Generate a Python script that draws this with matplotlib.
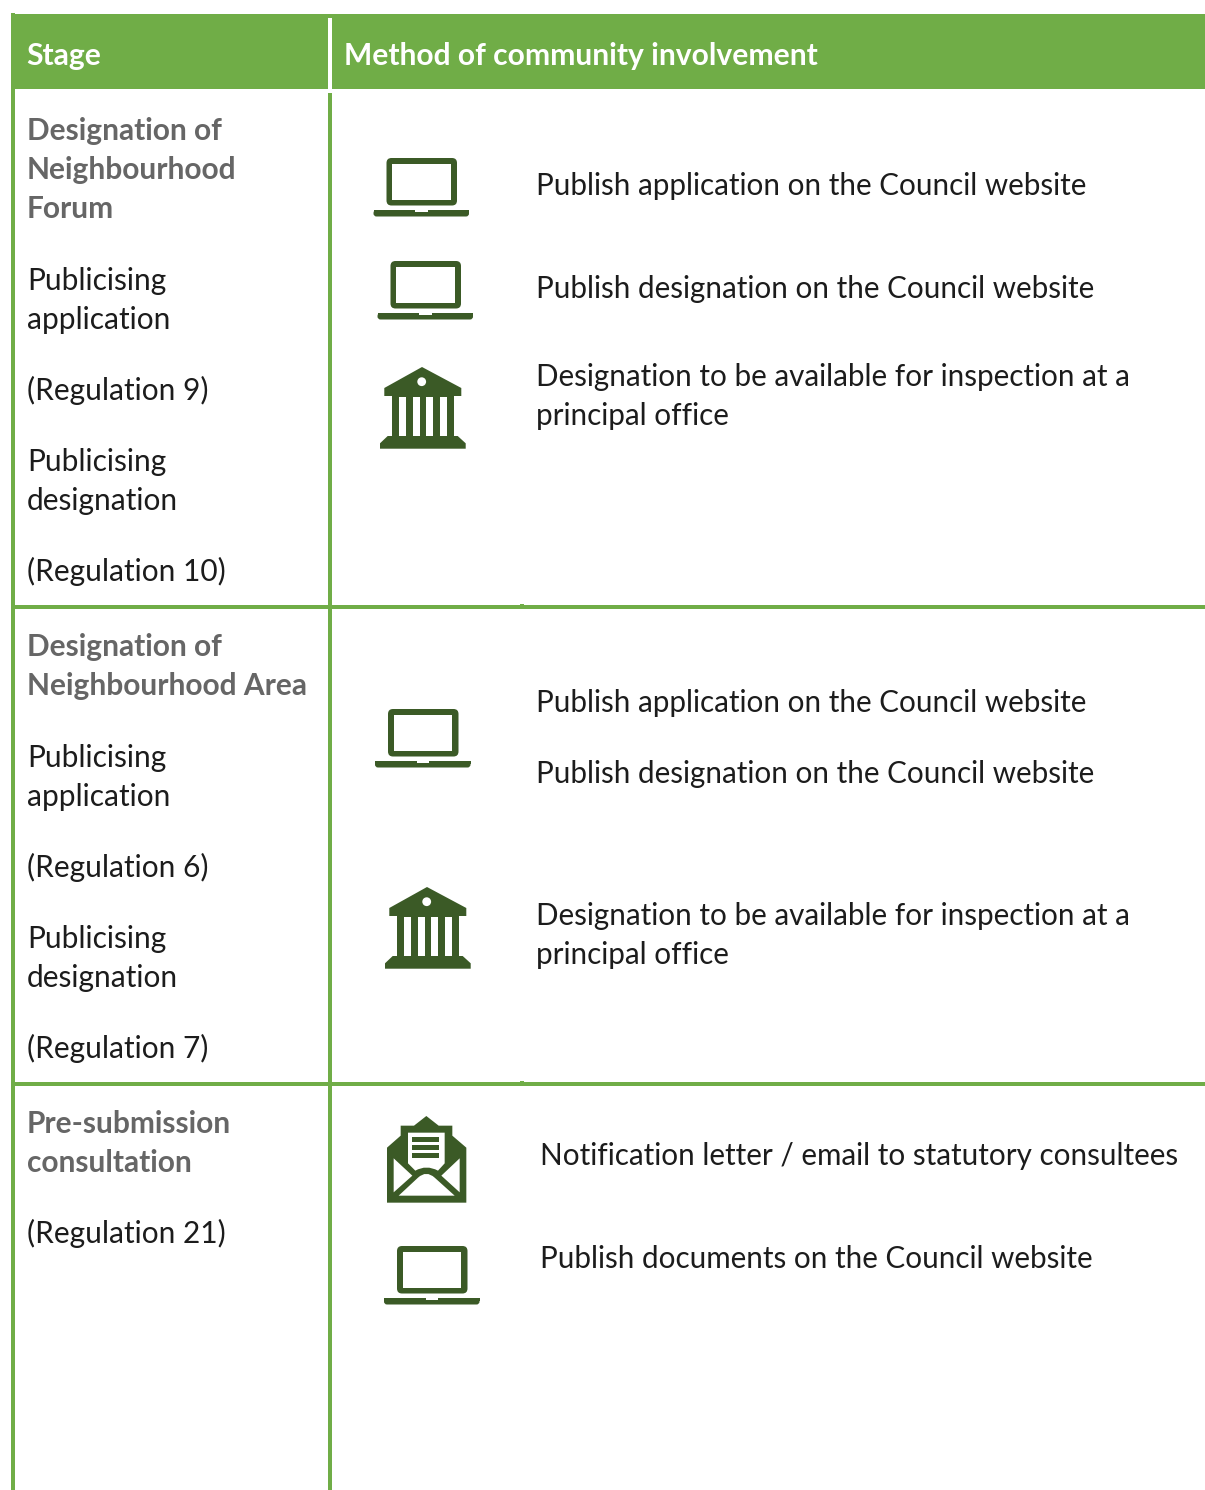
import matplotlib
matplotlib.use("Agg")
import matplotlib.pyplot as plt
from matplotlib.patches import Circle, FancyBboxPatch, Polygon, Rectangle, PathPatch
from matplotlib.path import Path

plt.rcParams['font.family'] = ['Lato', 'DejaVu Sans']

GREEN = '#70ad47'
DARK = '#3b5a26'
GREY = '#666666'
INK = '#1c1c1c'
W, H = 1205, 1490

header_labels = ["Stage", "Method of community involvement"]

stage_bold = ["Designation of", "Neighbourhood", "Forum",
              "Designation of", "Neighbourhood Area",
              "Pre-submission", "consultation"]
stage_bold_y = [140, 179, 218, 656, 695, 1133, 1172]

stage_plain = ["Publicising", "application", "(Regulation 9)",
               "Publicising", "designation", "(Regulation 10)",
               "Publicising", "application", "(Regulation 6)",
               "Publicising", "designation", "(Regulation 7)",
               "(Regulation 21)"]
stage_plain_y = [290, 329, 400, 471, 510, 581,
                 767, 806, 877, 948, 987, 1058, 1243]

method_text = ["Publish application on the Council website",
               "Publish designation on the Council website",
               "Designation to be available for inspection at a",
               "principal office",
               "Publish application on the Council website",
               "Publish designation on the Council website",
               "Designation to be available for inspection at a",
               "principal office",
               "Notification letter / email to statutory consultees",
               "Publish documents on the Council website"]
method_x = [536, 536, 536, 536, 536, 536, 536, 536, 540, 540]
method_y = [195, 298, 386, 425, 712, 783, 925, 964, 1165, 1268]

laptops = [(373.5, 158), (377.5, 261), (375, 709), (384, 1246)]
temples = [(422, 367), (427, 887)]
envelopes = [(387, 1116)]

row_lines = [607, 1084]


def draw_laptop(ax, x, y):
    ax.add_patch(FancyBboxPatch((x + 13, y), 70.5, 47.5, boxstyle="round,pad=0,rounding_size=5",
                                fc=DARK, ec='none'))
    ax.add_patch(Rectangle((x + 18.5, y + 6), 58.5, 36, fc='white', ec='none'))
    ax.add_patch(FancyBboxPatch((x, y + 52), 95.5, 6.5, boxstyle="round,pad=0,rounding_size=3",
                                fc=DARK, ec='none'))
    ax.add_patch(Rectangle((x, y + 52), 95.5, 3, fc=DARK, ec='none'))
    ax.add_patch(Rectangle((x + 41.5, y + 52), 12.5, 2.4, fc='white', ec='none'))


def draw_temple(ax, x, y):
    # x, y = apex of the roof
    roof = [(x, y), (x + 39.3, y + 21), (x + 39.3, y + 29), (x - 37.7, y + 29), (x - 37.7, y + 21)]
    ax.add_patch(Polygon(roof, fc=DARK, ec='none'))
    ax.add_patch(Rectangle((x - 29.7, y + 28), 61.7, 42, fc=DARK, ec='none'))
    for dx in (-23, -9.3, 4.3, 18):
        ax.add_patch(Rectangle((x + dx, y + 30), 7, 39, fc='white', ec='none'))
    base = [(x - 34.3, y + 69), (x + 35.7, y + 69), (x + 43.7, y + 76.3), (x + 43.7, y + 81.7),
            (x - 42, y + 81.7), (x - 42, y + 76.3)]
    ax.add_patch(Polygon(base, fc=DARK, ec='none'))
    ax.add_patch(Circle((x - 0.3, y + 14.7), 4.4, fc='white', ec='none'))


def draw_envelope(ax, x, y):
    # x, y = top left of the icon box, sizes are zoom pixels / 3
    def pt(a, b):
        return (x + (a - 37) / 3, y + (b - 33) / 3)

    outer = [(155, 33), (192, 62), (233, 62), (233, 92), (275, 128), (275, 293), (37, 293),
             (37, 128), (78, 92), (78, 62), (118, 62)]
    ax.add_patch(Polygon([pt(*p) for p in outer], fc=DARK, ec='none'))
    verts = [pt(100, 83), pt(210, 83), pt(210, 175), pt(190, 197), pt(155, 178), pt(122, 197),
             pt(100, 175), pt(100, 83)]
    codes = [Path.MOVETO, Path.LINETO, Path.LINETO, Path.LINETO, Path.CURVE3, Path.CURVE3,
             Path.LINETO, Path.CLOSEPOLY]
    ax.add_patch(PathPatch(Path(verts, codes), fc='white', ec='none'))
    for b in (97, 120, 145):
        ax.add_patch(Polygon([pt(113, b), pt(192, b), pt(192, b + 15), pt(113, b + 15)], fc=DARK, ec='none'))
    ax.add_patch(Polygon([pt(57, 160), pt(113, 212), pt(57, 262)], fc='white', ec='none'))
    ax.add_patch(Polygon([pt(255, 160), pt(200, 212), pt(255, 262)], fc='white', ec='none'))
    verts = [pt(72, 272), pt(130, 218), pt(155, 195), pt(180, 218), pt(240, 272), pt(72, 272)]
    codes = [Path.MOVETO, Path.LINETO, Path.CURVE3, Path.CURVE3, Path.LINETO, Path.CLOSEPOLY]
    ax.add_patch(PathPatch(Path(verts, codes), fc='white', ec='none'))


fig = plt.figure(figsize=(W / 100, H / 100), dpi=100)
ax = fig.add_axes([0, 0, 1, 1])
ax.set_xlim(0, W)
ax.set_ylim(H, 0)
ax.axis('off')

# table frame
ax.add_patch(Rectangle((11, 14), W - 11, 75, fc=GREEN, ec='none'))
ax.add_patch(Rectangle((11, 13), 4, H - 13, fc=GREEN, ec='none'))
ax.add_patch(Rectangle((328, 18), 4, 71, fc='white', ec='none'))
ax.add_patch(Rectangle((328, 93), 4, H - 93, fc=GREEN, ec='none'))
for ly in row_lines:
    ax.add_patch(Rectangle((11, ly - 2), W - 11, 4, fc=GREEN, ec='none'))
    ax.add_patch(Rectangle((520, ly - 3), 4, 2, fc=GREEN, ec='none'))

ax.text(26, 65, header_labels[0], color='white', fontsize=21.6, fontweight='bold')
ax.text(344, 65, header_labels[1], color='white', fontsize=21.6, fontweight='bold')

for s, y in zip(stage_bold, stage_bold_y):
    ax.text(27, y, s, color=GREY, fontsize=21.5, fontweight='bold')
for s, y in zip(stage_plain, stage_plain_y):
    ax.text(27, y, s, color=INK, fontsize=21.5)
for s, x, y in zip(method_text, method_x, method_y):
    ax.text(x, y, s, color=INK, fontsize=21.3)

for x, y in laptops:
    draw_laptop(ax, x, y)
for x, y in temples:
    draw_temple(ax, x, y)
for x, y in envelopes:
    draw_envelope(ax, x, y)

fig.savefig('out.png', dpi=100)
